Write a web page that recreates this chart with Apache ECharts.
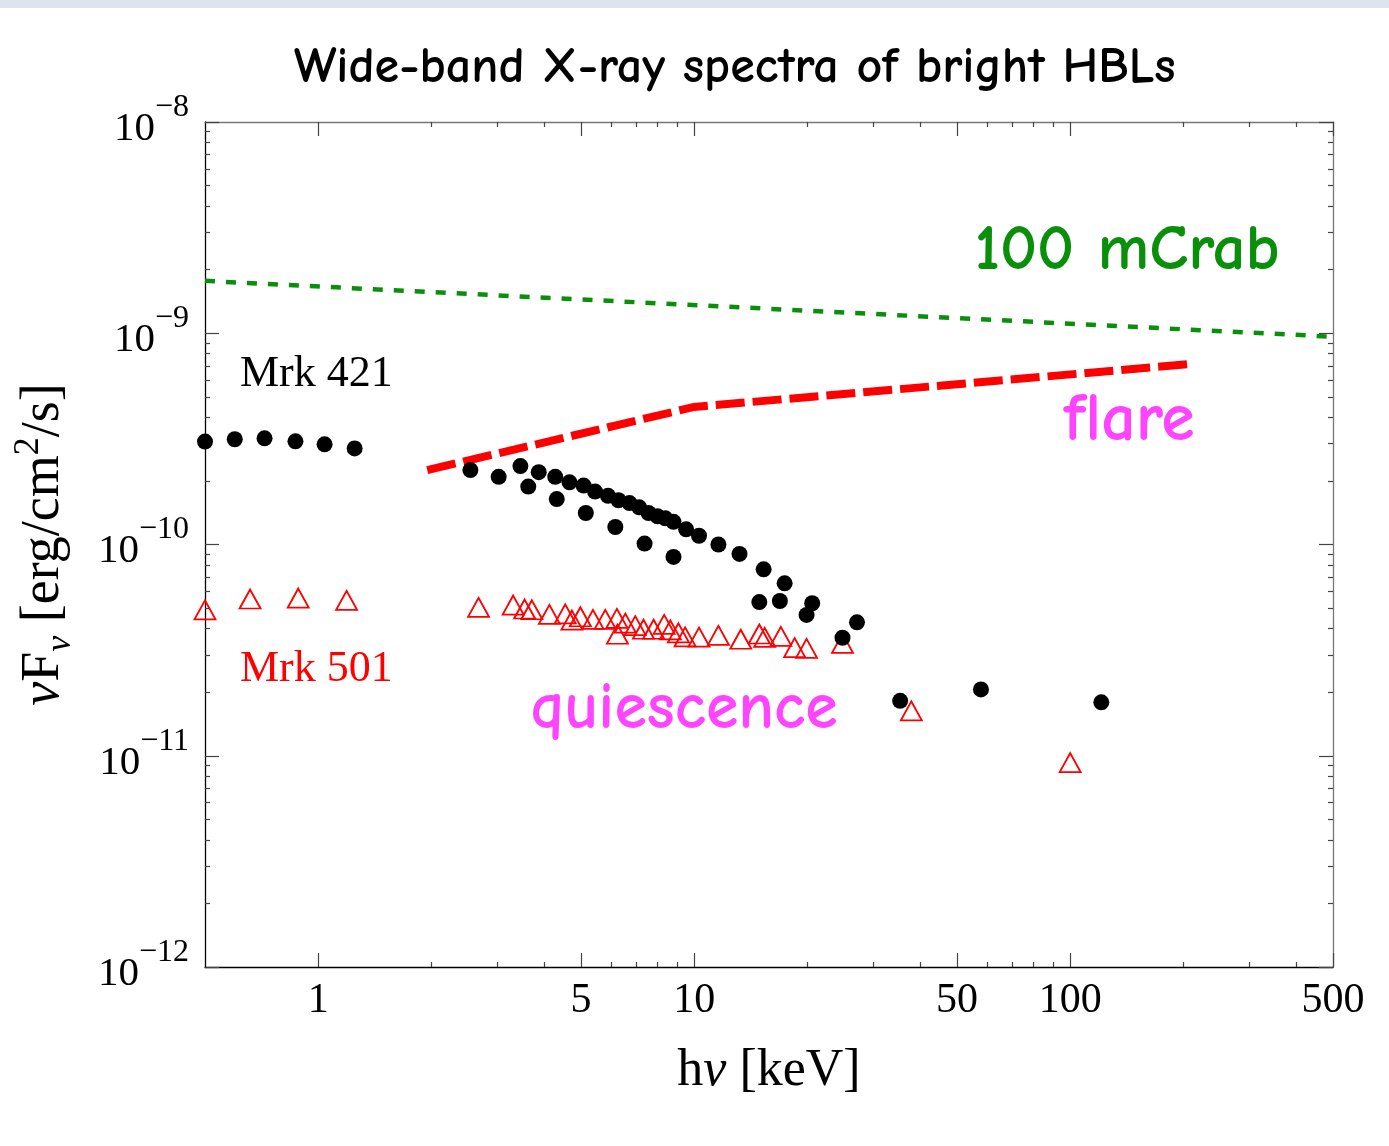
<!DOCTYPE html>
<html>
<head>
<meta charset="utf-8">
<script src="https://cdn.jsdelivr.net/npm/echarts@6/dist/echarts.min.js"></script>
<style>
html,body{margin:0;padding:0;background:#fff;}
#c{width:1389px;height:1146px;}
</style>
</head>
<body>
<div id="c"></div>
<script>
// ---- data (energy in keV, flux nuFnu in erg/cm^2/s) ----
var mrk421E = [0.50, 0.60, 0.72, 0.87, 1.04, 1.25, 2.54, 3.02, 3.45, 3.62, 3.86, 4.27, 4.31, 4.66, 5.08, 5.15, 5.45, 5.90, 6.29, 6.17, 6.73, 7.14, 7.38, 7.56, 7.99, 8.38, 8.81, 8.81, 9.52, 10.3, 11.6, 13.2, 15.3, 17.4, 14.9, 16.9, 20.6, 19.9, 27.1, 24.8, 35.3, 57.9, 121];
var mrk421F = [3.07e-10, 3.15e-10, 3.18e-10, 3.08e-10, 2.98e-10, 2.85e-10, 2.25e-10, 2.09e-10, 2.35e-10, 1.88e-10, 2.20e-10, 2.09e-10, 1.64e-10, 1.97e-10, 1.90e-10, 1.41e-10, 1.78e-10, 1.70e-10, 1.62e-10, 1.21e-10, 1.57e-10, 1.50e-10, 1.01e-10, 1.41e-10, 1.36e-10, 1.33e-10, 1.28e-10, 8.73e-11, 1.18e-10, 1.10e-10, 1.00e-10, 9.02e-11, 7.63e-11, 6.55e-11, 5.34e-11, 5.40e-11, 5.27e-11, 4.64e-11, 4.28e-11, 3.62e-11, 1.82e-11, 2.06e-11, 1.79e-11];
var mrk501E = [0.50, 0.659, 0.885, 1.19, 2.67, 3.30, 3.54, 3.70, 4.12, 4.54, 4.73, 4.98, 5.38, 5.80, 6.23, 6.25, 6.56, 6.97, 7.33, 7.80, 8.32, 8.64, 9.08, 9.46, 10.3, 11.6, 13.3, 14.9, 15.4, 17.0, 18.5, 19.9, 24.8, 37.8, 100];
var mrk501F = [4.90e-11, 5.52e-11, 5.58e-11, 5.44e-11, 5.04e-11, 5.17e-11, 4.95e-11, 4.91e-11, 4.67e-11, 4.69e-11, 4.39e-11, 4.55e-11, 4.42e-11, 4.42e-11, 4.47e-11, 3.76e-11, 4.24e-11, 4.13e-11, 3.97e-11, 3.97e-11, 4.19e-11, 3.94e-11, 3.82e-11, 3.65e-11, 3.64e-11, 3.71e-11, 3.56e-11, 3.77e-11, 3.63e-11, 3.67e-11, 3.25e-11, 3.22e-11, 3.40e-11, 1.63e-11, 9.27e-12];
var crabE = [0.5, 500];
var crabF = [1.77e-9, 0.963e-9];
var flareE = [1.95, 10, 205];
var flareF = [2.25e-10, 4.48e-10, 7.13e-10];

var xRange = [0.5, 500];
var yRange = [1e-12, 1e-8];
var xMajorTicks = [1, 5, 10, 50, 100, 500];
var xMinorTicks = [2, 3, 4, 6, 7, 8, 9, 20, 30, 40, 60, 70, 80, 90, 200, 300, 400];
var yMajorTicks = [1e-12, 1e-11, 1e-10, 1e-9, 1e-8];
var yMinorFactors = [2, 3, 4, 5, 6, 7, 8, 9];

// ---- helpers ----
var L = function (v) { return Math.log10(v); };
function pairs(xs, ys) { return xs.map(function (x, i) { return [L(x), L(ys[i])]; }); }
var yMinorTicks = [];
yMajorTicks.slice(0, -1).forEach(function (d) { yMinorFactors.forEach(function (k) { yMinorTicks.push(k * d); }); });

var serif = "'Liberation Serif','DejaVu Serif','Times New Roman',serif";
var comic = "'Comic Sans MS','Comic Neue','Open Sans','Noto Sans',sans-serif";
var G = { left: 205, top: 122, width: 1128, height: 845 };

function xAxisDef(grid, pos, ticks, len, showLine, lineColor, showLabel) {
  return {
    type: 'value', gridIndex: grid, position: pos,
    min: L(xRange[0]), max: L(xRange[1]),
    axisLine: { show: showLine, onZero: false, lineStyle: { color: lineColor, width: 1.3 } },
    axisTick: { show: true, inside: true, length: len, customValues: ticks.map(L), lineStyle: { color: '#444', width: 1.2 } },
    axisLabel: showLabel ? {
      show: true, customValues: ticks.map(L), margin: 13,
      formatter: function (v) { return String(Math.round(Math.pow(10, v))); },
      fontFamily: serif, fontSize: 42, color: '#000'
    } : { show: false },
    splitLine: { show: false },
    name: showLabel ? '{b|h}{i|ν}{b| [keV]}' : '',
    nameLocation: 'middle', nameGap: 78,
    nameTextStyle: { rich: {
      b: { fontFamily: serif, fontSize: 52, color: '#000' },
      i: { fontFamily: serif, fontSize: 52, fontStyle: 'italic', color: '#000' }
    } }
  };
}
function yAxisDef(grid, pos, ticks, len, showLine, lineColor, showLabel) {
  return {
    type: 'value', gridIndex: grid, position: pos,
    min: L(yRange[0]), max: L(yRange[1]),
    axisLine: { show: showLine, onZero: false, lineStyle: { color: lineColor, width: 1.3 } },
    axisTick: { show: true, inside: true, length: len, customValues: ticks.map(L), lineStyle: { color: '#444', width: 1.2 } },
    axisLabel: showLabel ? {
      show: true, customValues: ticks.map(L), margin: 16, padding: [14, 0, 0, 0],
      formatter: function (v) { return '{b|10}{s|\u2212' + Math.abs(Math.round(v)) + '}'; },
      rich: {
        b: { fontFamily: serif, fontSize: 41, lineHeight: 41, color: '#000', verticalAlign: 'bottom' },
        s: { fontFamily: serif, fontSize: 32, lineHeight: 32, color: '#000', verticalAlign: 'bottom', padding: [0, 0, 26, 0] }
      }
    } : { show: false },
    splitLine: { show: false },
    name: showLabel ? '{i|ν}{b|F}{sub|ν}{b| [erg/cm}{sup|2}{b|/s]}' : '',
    nameLocation: 'middle', nameGap: 126, nameRotate: 90,
    nameTextStyle: { rich: {
      b: { fontFamily: serif, fontSize: 54, lineHeight: 54, color: '#000', verticalAlign: 'bottom', padding: [0, 0, 8, 0] },
      i: { fontFamily: serif, fontSize: 54, lineHeight: 54, fontStyle: 'italic', color: '#000', verticalAlign: 'bottom', padding: [0, 0, 8, 0] },
      sub: { fontFamily: serif, fontSize: 36, lineHeight: 36, fontStyle: 'italic', color: '#000', verticalAlign: 'bottom' },
      sup: { fontFamily: serif, fontSize: 36, lineHeight: 36, color: '#000', verticalAlign: 'bottom', padding: [0, 0, 32, 0] }
    } }
  };
}

var chart = echarts.init(document.getElementById('c'), null, { renderer: 'canvas' });
chart.setOption({
  backgroundColor: '#fff',
  animation: false,
  title: {
    text: 'Wide-band X-ray spectra of bright HBLs',
    left: 289, top: 38,
    textStyle: { fontFamily: comic, fontSize: 50, fontWeight: 'bold', color: '#000' }
  },
  grid: [
    Object.assign({ outerBoundsMode: 'none', containLabel: false }, G),
    Object.assign({ outerBoundsMode: 'none', containLabel: false }, G)
  ],
  xAxis: [
    xAxisDef(0, 'bottom', xMajorTicks, 14, true, '#000', true),
    xAxisDef(0, 'top', xMajorTicks, 14, true, '#777', false),
    xAxisDef(1, 'bottom', xMinorTicks, 5, false, '#000', false),
    xAxisDef(1, 'top', xMinorTicks, 5, false, '#000', false)
  ],
  yAxis: [
    yAxisDef(0, 'left', yMajorTicks, 14, true, '#000', true),
    yAxisDef(0, 'right', yMajorTicks, 14, true, '#777', false),
    yAxisDef(1, 'left', yMinorTicks, 5, false, '#000', false),
    yAxisDef(1, 'right', yMinorTicks, 5, false, '#000', false)
  ],
  series: [
    {
      name: '100 mCrab', type: 'line', xAxisIndex: 0, yAxisIndex: 0,
      data: pairs(crabE, crabF), showSymbol: false, symbol: 'none',
      lineStyle: { color: '#0a8f0a', width: 4.5, type: [10, 11], cap: 'butt' }, z: 3
    },
    {
      name: 'flare', type: 'line', xAxisIndex: 0, yAxisIndex: 0,
      data: pairs(flareE, flareF), showSymbol: false, symbol: 'none',
      lineStyle: { color: '#ff0000', width: 8, type: [29, 8], cap: 'butt' }, z: 3
    },
    {
      name: 'Mrk 501', type: 'scatter', xAxisIndex: 0, yAxisIndex: 0,
      data: pairs(mrk501E, mrk501F), symbol: 'triangle', symbolSize: [21, 19],
      itemStyle: { color: 'rgba(0,0,0,0)', borderColor: '#ff0000', borderWidth: 1.8, opacity: 1 }, z: 4
    },
    {
      name: 'Mrk 421', type: 'scatter', xAxisIndex: 0, yAxisIndex: 0,
      data: pairs(mrk421E, mrk421F), symbol: 'circle', symbolSize: 16,
      itemStyle: { color: '#000', opacity: 1 }, z: 5
    }
  ],
  graphic: [
    { type: 'rect', shape: { x: 0, y: 0, width: 1389, height: 8 }, style: { fill: '#dde4ee' }, silent: true },
    { type: 'text', x: 1127, y: 251, style: { text: '100 mCrab', fill: '#0a8f0a', font: 'bold 65px ' + comic, textAlign: 'center', textVerticalAlign: 'middle' } },
    { type: 'text', x: 1129, y: 421, style: { text: 'flare', fill: '#ff44ff', font: 'bold 68px ' + comic, textAlign: 'center', textVerticalAlign: 'middle' } },
    { type: 'text', x: 684, y: 709, style: { text: 'quiescence', fill: '#ff44ff', font: 'bold 66px ' + comic, textAlign: 'center', textVerticalAlign: 'middle' } },
    { type: 'text', x: 240, y: 374, style: { text: 'Mrk 421', fill: '#000', font: '44px ' + serif, textAlign: 'left', textVerticalAlign: 'middle' } },
    { type: 'text', x: 240, y: 669, style: { text: 'Mrk 501', fill: '#ff0000', font: '44px ' + serif, textAlign: 'left', textVerticalAlign: 'middle' } }
  ]
});
</script>
</body>
</html>
